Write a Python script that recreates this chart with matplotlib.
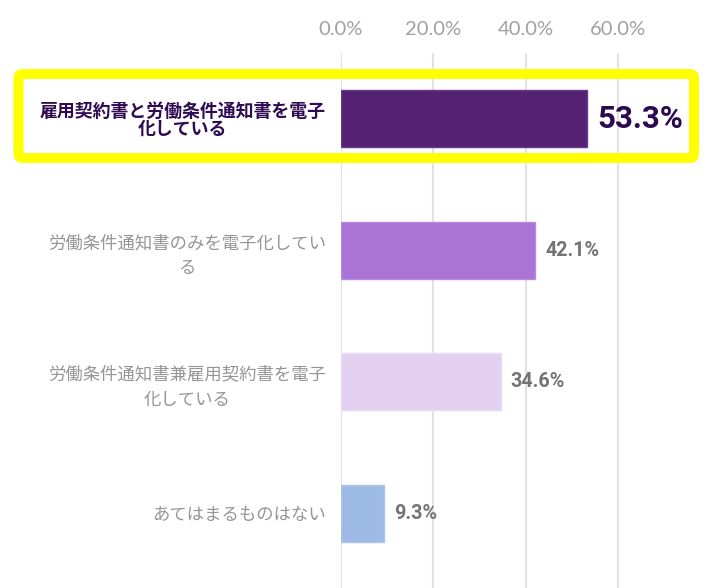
import matplotlib
matplotlib.use("Agg")
import matplotlib.pyplot as plt
from matplotlib.patches import FancyBboxPatch

plt.rcParams['font.family'] = ['Noto Sans CJK JP', 'DejaVu Sans']

# data
categories = [
    "雇用契約書と労働条件通知書を電子\n化している",
    "労働条件通知書のみを電子化してい\nる",
    "労働条件通知書兼雇用契約書を電子\n化している",
    "あてはまるものはない",
]
values = [53.3, 42.1, 34.6, 9.3]
bar_colors = ["#542173", "#A974D6", "#E3D0F0", "#9DBBE5"]
edge_colors = ["#6A3A88", "#B98BE0", "#E9DBF4", "#ABC6EA"]
xticks = [0, 20, 40, 60]
xtick_labels = ["0.0%", "20.0%", "40.0%", "60.0%"]

fig = plt.figure(figsize=(7.11, 5.88), dpi=100)
ax = fig.add_axes([341 / 711, 0.0, 360 / 711, 1 - 53 / 588])

ypos = list(range(len(values)))
ax.barh(ypos, values, height=0.433, color=bar_colors, edgecolor=edge_colors, linewidth=1, zorder=3)

ax.set_xlim(0, 78)
ax.set_ylim(3.57, -0.5)
ax.set_xticks(xticks)
ax.set_xticklabels(xtick_labels, fontsize=14.5, color="#A0A0A0", family="Lato")
ax.xaxis.tick_top()
ax.tick_params(axis="x", length=0, pad=11)
ax.grid(axis="x", color="#E2E2E2", linewidth=1.5, zorder=0)
for s in ax.spines.values():
    s.set_visible(False)

ax.set_yticks(ypos)
ax.set_yticklabels(categories)
ax.tick_params(axis="y", length=0, pad=11)
for i, lab in enumerate(ax.get_yticklabels()):
    lab.set_multialignment("center")
    if i == 0:
        lab.set_fontsize(12.9)
        lab.set_fontweight("bold")
        lab.set_color("#2E0B52")
        lab.set_linespacing(1.0)
    else:
        lab.set_fontsize(12.5)
        lab.set_color("#959595")
        lab.set_linespacing(1.5)

# value labels
for i, v in enumerate(values):
    if i == 0:
        ax.annotate(f"{v:.1f}%", xy=(v, i), xytext=(7.2, 0), textcoords="offset points",
                    va="center", ha="left", fontsize=22.5, fontweight="bold",
                    color="#2B0A4F", family="Roboto")
    else:
        ax.annotate(f"{v:.1f}%", xy=(v, i), xytext=(7.2, 0), textcoords="offset points",
                    va="center", ha="left", fontsize=14.2, fontweight="bold",
                    color="#737373", family="Roboto")

# yellow highlight around first row
box = FancyBboxPatch((18.5, 588 - 158), 675.5, 84,
                     boxstyle="round,pad=0,rounding_size=4",
                     transform=None, fill=False, edgecolor="#FFFF00", linewidth=7.2, zorder=5)
fig.patches.append(box)

fig.savefig("out.png", dpi=100)
